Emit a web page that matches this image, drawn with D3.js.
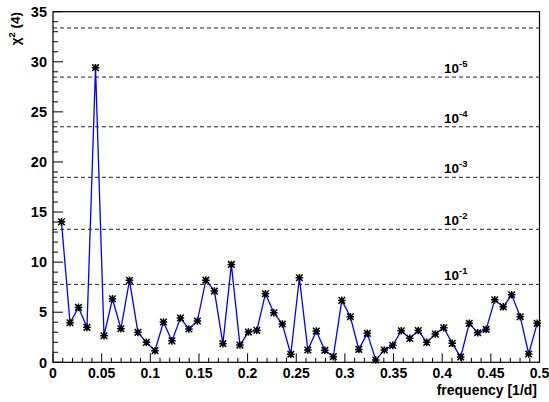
<!DOCTYPE html>
<html>
<head>
<meta charset="utf-8">
<script src="https://cdn.jsdelivr.net/npm/d3@7"></script>
<style>
  html, body { margin: 0; padding: 0; background: #fff; }
  svg { display: block; }
  text { font-family: "Liberation Sans", Arial, Helvetica, sans-serif; font-weight: bold; fill: #000; }
</style>
</head>
<body>
<svg id="chart" width="549" height="402"></svg>
<script>
// Periodogram: chi-square (4 dof) statistic per trial frequency
const freqs = [
  0.0087, 0.0175, 0.0262, 0.0349, 0.0437, 0.0524, 0.0611, 0.0698, 0.0786, 0.0873,
  0.0960, 0.1048, 0.1135, 0.1222, 0.1310, 0.1397, 0.1484, 0.1571, 0.1659, 0.1746,
  0.1833, 0.1921, 0.2008, 0.2095, 0.2183, 0.2270, 0.2357, 0.2444, 0.2532, 0.2619,
  0.2706, 0.2794, 0.2881, 0.2968, 0.3056, 0.3143, 0.3230, 0.3317, 0.3405, 0.3492,
  0.3579, 0.3667, 0.3754, 0.3841, 0.3929, 0.4016, 0.4103, 0.4190, 0.4278, 0.4365,
  0.4452, 0.4540, 0.4627, 0.4714, 0.4802, 0.4889, 0.4976
];
const chi2 = [
  14.02, 3.95, 5.48, 3.49, 29.41, 2.65, 6.34, 3.35, 8.18, 2.99,
  1.99, 1.16, 4.02, 2.14, 4.42, 3.32, 4.12, 8.20, 7.11, 1.86,
  9.77, 1.72, 3.02, 3.19, 6.84, 4.95, 3.82, 0.80, 8.44, 1.23,
  3.12, 1.20, 0.56, 6.18, 4.55, 1.29, 2.89, 0.23, 1.23, 1.69,
  3.15, 2.39, 3.17, 1.99, 2.82, 3.45, 1.89, 0.53, 3.89, 2.95,
  3.29, 6.24, 5.54, 6.74, 4.55, 0.83, 3.89
];
// False-alarm probability levels and their chi-square (4 dof) thresholds
const levelExps = [-1, -2, -3, -4, -5, -6];
const levelValues = [7.779, 13.277, 18.467, 23.513, 28.473, 33.377];
const levelLabeled = [true, true, true, true, true, false];

const xTicks = [0, 0.05, 0.1, 0.15, 0.2, 0.25, 0.3, 0.35, 0.4, 0.45, 0.5];
const xTickLabels = ["0", "0.05", "0.1", "0.15", "0.2", "0.25", "0.3", "0.35", "0.4", "0.45", "0.5"];
const yTicks = [0, 5, 10, 15, 20, 25, 30, 35];

const svg = d3.select("#chart");
const plotL = 53, plotR = 539.5, plotT = 11.7, plotB = 362.3;

const x = d3.scaleLinear().domain([0, 0.5]).range([plotL, plotR]);
const y = d3.scaleLinear().domain([0, 35]).range([plotB, plotT]);

// threshold lines
svg.append("g").selectAll("line")
  .data(levelValues)
  .join("line")
  .attr("x1", plotL).attr("x2", plotR)
  .attr("y1", d => y(d)).attr("y2", d => y(d))
  .attr("stroke", "#222").attr("stroke-width", 1)
  .attr("stroke-dasharray", "4,3");

// threshold labels 10^k
const lbl = svg.append("g").selectAll("text")
  .data(levelValues.map((v, i) => ({ v, e: levelExps[i], show: levelLabeled[i] })).filter(d => d.show))
  .join("text")
  .attr("x", 444)
  .attr("y", d => y(d.v) - 4)
  .style("font-size", "13.5px");
lbl.append("tspan").text("10");
lbl.append("tspan").attr("dy", -6).style("font-size", "9.5px").text(d => d.e);

// y axis ticks (major every 5, minor every 1), drawn inward
const yMinor = d3.range(0, 36, 1);
svg.append("g").selectAll("line")
  .data(yMinor)
  .join("line")
  .attr("x1", plotL).attr("x2", d => plotL + (d % 5 === 0 ? 10 : 5))
  .attr("y1", d => y(d)).attr("y2", d => y(d))
  .attr("stroke", "#000").attr("stroke-width", 1);

svg.append("g").selectAll("text")
  .data(yTicks)
  .join("text")
  .attr("x", 47).attr("y", d => y(d))
  .attr("text-anchor", "end").attr("dy", "0.36em")
  .style("font-size", "14.5px")
  .text(d => d);

// x axis ticks (major every 0.05, minor every 0.01)
const xMinor = d3.range(0, 51, 1).map(i => i / 100);
svg.append("g").selectAll("line")
  .data(xMinor)
  .join("line")
  .attr("x1", d => x(d)).attr("x2", d => x(d))
  .attr("y1", plotB).attr("y2", (d, i) => plotB - (i % 5 === 0 ? 9 : 4.5))
  .attr("stroke", "#000").attr("stroke-width", 1);

svg.append("g").selectAll("text")
  .data(xTicks)
  .join("text")
  .attr("x", d => x(d)).attr("y", 377.5)
  .attr("text-anchor", "middle")
  .style("font-size", "14px")
  .text((d, i) => xTickLabels[i]);

// frame
svg.append("rect")
  .attr("x", plotL).attr("y", plotT)
  .attr("width", plotR - plotL).attr("height", plotB - plotT)
  .attr("fill", "none").attr("stroke", "#000").attr("stroke-width", 1.2);

// data line
const pts = freqs.map((f, i) => [f, chi2[i]]);
svg.append("path")
  .datum(pts)
  .attr("fill", "none").attr("stroke", "#0000ff").attr("stroke-width", 1.3)
  .attr("d", d3.line().x(d => x(d[0])).y(d => y(d[1])));

// asterisk markers
const r = 3.8, rd = 3.3;
const star = `M${-r},0L${r},0M0,${-r}L0,${r}M${-rd},${-rd}L${rd},${rd}M${-rd},${rd}L${rd},${-rd}`;
svg.append("g").selectAll("path")
  .data(pts)
  .join("path")
  .attr("transform", d => `translate(${x(d[0])},${y(d[1])})`)
  .attr("d", star)
  .attr("stroke", "#000").attr("stroke-width", 1.5).attr("fill", "none");

// axis titles
const yt = svg.append("text")
  .attr("transform", "translate(20,12) rotate(-90)")
  .attr("text-anchor", "end")
  .style("font-size", "13.5px");
yt.append("tspan").text("\u03c7");
yt.append("tspan").attr("dy", -5).style("font-size", "9.5px").text("2");
yt.append("tspan").attr("dy", 5).text(" (4)");

svg.append("text")
  .attr("x", 537).attr("y", 394.5)
  .attr("text-anchor", "end")
  .style("font-size", "14px")
  .text("frequency [1/d]");
</script>
</body>
</html>
